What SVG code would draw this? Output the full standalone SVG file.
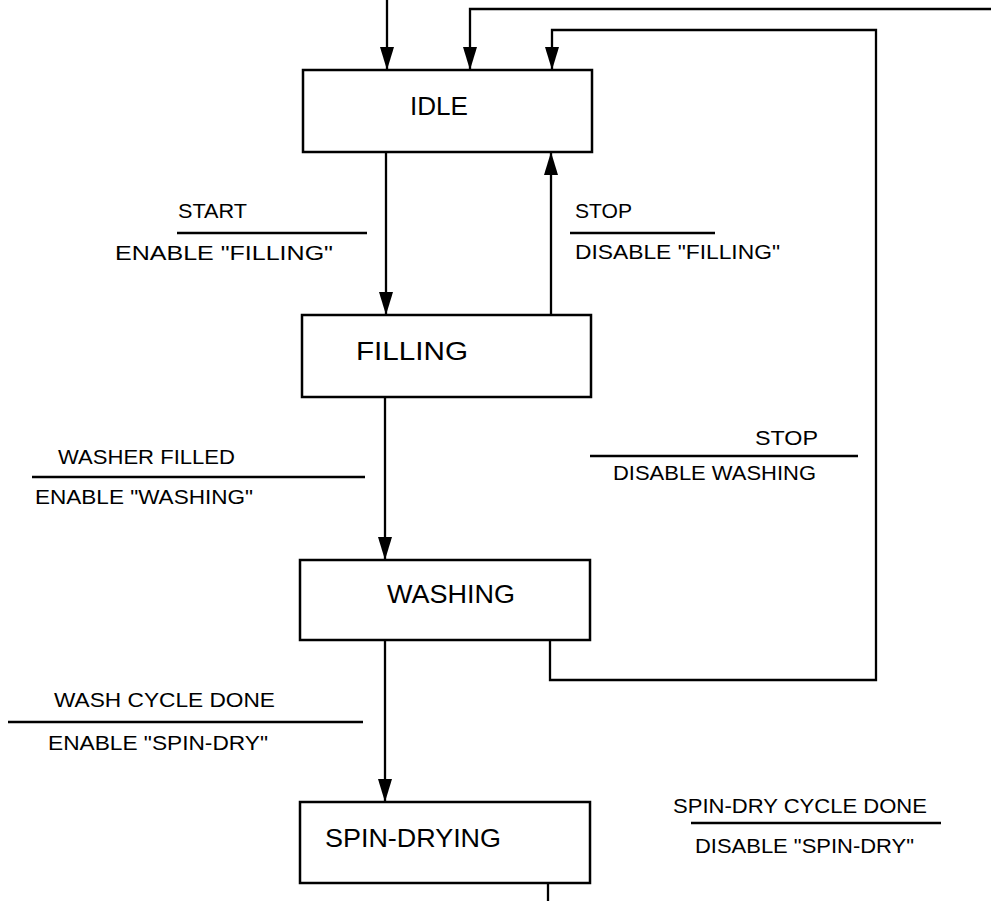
<svg xmlns="http://www.w3.org/2000/svg" width="991" height="901" viewBox="0 0 991 901">
<style>
.box{fill:#fff;stroke:#000;stroke-width:2.5}
.st{font-family:"Liberation Sans",Arial,sans-serif;font-size:25px;fill:#000}
.lb{font-family:"Liberation Sans",Arial,sans-serif;font-size:21px;fill:#000}
.wire{fill:none;stroke:#000;stroke-width:2.3}
.bar{stroke:#000;stroke-width:2.3}
</style>
<defs>
<marker id="a" markerWidth="23" markerHeight="14" refX="23" refY="7" orient="auto" markerUnits="userSpaceOnUse" viewBox="0 0 23 14">
<path d="M0,0 L23,7 L0,14 Z" fill="#000"/>
</marker>
</defs>
<g id="connectors">
<path class="wire" d="M387,0 V70" marker-end="url(#a)"/>
<path class="wire" d="M991,9 H470 V70" marker-end="url(#a)"/>
<path class="wire" d="M550,640 V680 H876 V30 H552 V70" marker-end="url(#a)"/>
<path class="wire" d="M386,152 V315" marker-end="url(#a)"/>
<path class="wire" d="M551,315 V152" marker-end="url(#a)"/>
<path class="wire" d="M385,397 V560" marker-end="url(#a)"/>
<path class="wire" d="M385,640 V802" marker-end="url(#a)"/>
<path class="wire" d="M548,883 V901"/>
</g>
<g id="idle">
<rect class="box" x="303" y="70" width="289" height="82"/>
<text class="st" x="410" y="115" textLength="58" lengthAdjust="spacingAndGlyphs">IDLE</text>
</g>
<g id="filling">
<rect class="box" x="302" y="315" width="289" height="82"/>
<text class="st" x="356" y="360" textLength="112" lengthAdjust="spacingAndGlyphs">FILLING</text>
</g>
<g id="washing">
<rect class="box" x="300" y="560" width="290" height="80"/>
<text class="st" x="387" y="603" textLength="128" lengthAdjust="spacingAndGlyphs">WASHING</text>
</g>
<g id="spin-drying">
<rect class="box" x="300" y="802" width="290" height="81"/>
<text class="st" x="325" y="847" textLength="176" lengthAdjust="spacingAndGlyphs">SPIN-DRYING</text>
</g>
<g id="labels">
<text class="lb" x="178" y="218" textLength="69" lengthAdjust="spacingAndGlyphs">START</text>
<line class="bar" x1="177" y1="233" x2="367" y2="233"/>
<text class="lb" x="115" y="260" textLength="218" lengthAdjust="spacingAndGlyphs">ENABLE "FILLING"</text>
<text class="lb" x="575" y="218" textLength="57" lengthAdjust="spacingAndGlyphs">STOP</text>
<line class="bar" x1="570" y1="233" x2="715" y2="233"/>
<text class="lb" x="575" y="259" textLength="205" lengthAdjust="spacingAndGlyphs">DISABLE "FILLING"</text>
<text class="lb" x="58" y="464" textLength="177" lengthAdjust="spacingAndGlyphs">WASHER FILLED</text>
<line class="bar" x1="32" y1="477" x2="365" y2="477"/>
<text class="lb" x="35" y="504" textLength="218" lengthAdjust="spacingAndGlyphs">ENABLE "WASHING"</text>
<text class="lb" x="755" y="445" textLength="63" lengthAdjust="spacingAndGlyphs">STOP</text>
<line class="bar" x1="590" y1="456" x2="858" y2="456"/>
<text class="lb" x="613" y="480" textLength="203" lengthAdjust="spacingAndGlyphs">DISABLE WASHING</text>
<text class="lb" x="54" y="707" textLength="221" lengthAdjust="spacingAndGlyphs">WASH CYCLE DONE</text>
<line class="bar" x1="8" y1="722" x2="363" y2="722"/>
<text class="lb" x="48" y="750" textLength="220" lengthAdjust="spacingAndGlyphs">ENABLE "SPIN-DRY"</text>
<text class="lb" x="673" y="813" textLength="254" lengthAdjust="spacingAndGlyphs">SPIN-DRY CYCLE DONE</text>
<line class="bar" x1="691" y1="823" x2="941" y2="823"/>
<text class="lb" x="695" y="853" textLength="219" lengthAdjust="spacingAndGlyphs">DISABLE "SPIN-DRY"</text>
</g>
</svg>
